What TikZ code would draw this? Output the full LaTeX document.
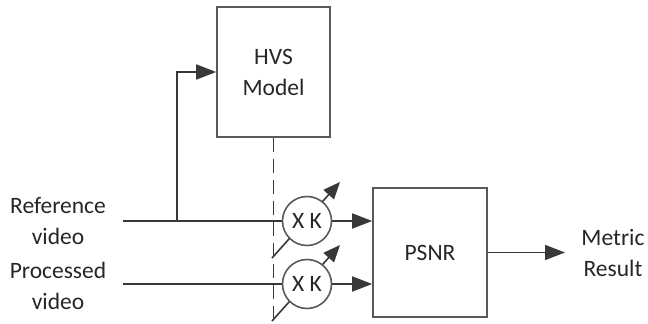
\documentclass[tikz,border=0pt]{standalone}
\usepackage{fontspec}
\setmainfont{Carlito}
\usetikzlibrary{arrows.meta,positioning}

\begin{document}
\begin{tikzpicture}[x=1pt,y=-1pt,>={Triangle[length=20pt,width=15pt]},
 line width=1.6pt,color=black!78,font=\fontsize{23.5}{31}\selectfont,
 box/.style={draw=black!65,minimum width=113pt,align=center,inner sep=0pt},
 gain/.style={circle,draw=black!65,fill=white,minimum size=49pt,inner sep=0pt},
 knob/.style={-{Triangle[length=17pt,width=14pt]}},
 lbl/.style={align=center,text=black!85}]
\useasboundingbox (0,0) rectangle (648,324);
\node[box,minimum height=130pt,text=black!85] (hvs) at (273.5,72) {HVS\\Model};
\node[box,minimum height=129pt,minimum width=114pt,text=black!85] (psnr) at (430,252.5) {PSNR};
\node[lbl] (ref) at (58,221) {Reference\\video};
\node[lbl] (proc) at (58,286) {Processed\\video};
\node[lbl] (metric) at (613,253) {Metric\\Result};
\coordinate (refin) at (123,221);
\coordinate (procin) at (123,284);
\coordinate (tap) at (177,221);
\coordinate (out) at (565,252.5);
% gain knobs, under the circles
\draw[knob] (272,258) -- (340,182);
\draw[knob] (272,321) -- (340,245);
\node[gain,text=black!85] (mula) at (307,221) {X K};
\node[gain,text=black!85] (mulb) at (307,284) {X K};
\draw[dash pattern=on 14pt off 7pt] (hvs.south) -- ++(0,182);
\draw (refin) -- (mula);
\draw (procin) -- (mulb);
\draw[->] (tap) |- (hvs.west);
\draw[->] (mula) -- (psnr.west |- mula);
\draw[->] (mulb) -- (psnr.west |- mulb);
\draw[->] (psnr) -- (out);
\end{tikzpicture}
\end{document}
